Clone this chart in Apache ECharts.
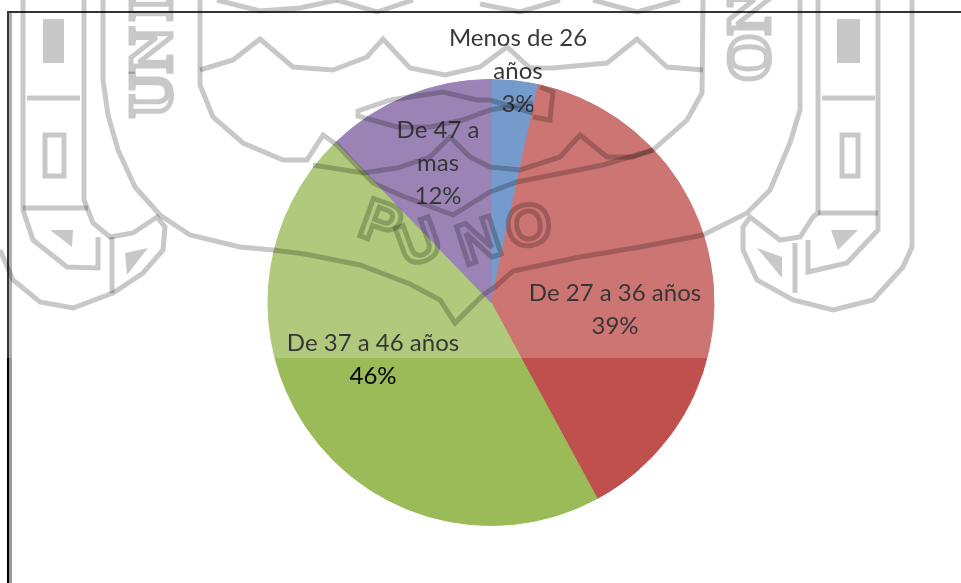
<!DOCTYPE html>
<html>
<head>
<meta charset="utf-8">
<style>
  html, body { margin: 0; padding: 0; background: #fff; }
  #chart { width: 961px; height: 583px; }
</style>
</head>
<body>
<div id="chart"></div>
<script src="https://cdn.jsdelivr.net/npm/echarts@6/dist/echarts.min.js"></script>
<script>
// valores
const categories = ['Menos de 26\naños', 'De 27 a 36 años', 'De 37 a 46 años', 'De 47 a\nmas']
const values = [3.4, 38.7, 45.7, 12.2]
const colors = ['#4f81bd', '#c0504d', '#9bbb59', '#8064a2']

// centro de cada etiqueta
const labelCenters = [[518, 71], [615, 310], [373, 360], [438, 163]]

// marca de agua (escudo) de fondo
const wmLines = [
  // arcos grandes
  [[103, 0], [103, 80], [108, 115], [118, 150], [135, 187], [160, 215], [190, 235], [240, 247], [273, 250], [305, 254], [360, 265], [410, 284], [440, 300], [455, 323], [483, 295]],
  [[483, 295], [495, 287], [513, 271], [580, 257], [640, 247], [703, 235], [747, 213], [770, 190], [790, 143], [800, 110], [800, 0]],
  [[200, 0], [200, 85], [213, 117], [243, 143], [283, 160], [307, 160], [323, 135], [337, 145], [373, 183], [400, 195], [453, 215], [490, 192], [517, 182], [603, 165], [653, 150], [687, 120], [702, 93], [703, 0]],
  // coronas
  [[200, 70], [233, 60], [260, 39], [293, 67], [333, 70], [367, 57], [383, 39], [410, 68], [445, 75], [480, 67], [507, 47], [530, 68], [553, 68], [607, 63], [637, 39], [667, 67], [703, 70]],
  [[313, 165], [363, 173], [397, 168], [430, 157], [450, 137], [470, 157], [490, 167], [520, 170], [560, 157], [580, 135], [607, 157], [633, 157], [653, 150]],
  [[390, 100], [358, 111], [358, 116], [397, 127], [430, 127], [463, 120], [490, 110], [533, 103]],
  [[390, 100], [443, 92], [477, 100], [490, 100], [533, 113]],
  [[533, 117], [550, 120], [553, 92], [540, 87]],
  // arcos superiores
  [[217, 0], [260, 11], [300, 8], [337, 0]],
  [[337, 0], [377, 12], [413, 0]],
  [[480, 4], [520, 12], [560, 0]],
  [[593, 0], [637, 12], [680, 0]],
  // lado izquierdo
  [[23, 0], [23, 210], [33, 240], [67, 267], [98, 268], [98, 237]],
  [[84, 0], [84, 200], [93, 223], [110, 237], [133, 233], [157, 217], [165, 227], [163, 250], [143, 273], [113, 293], [73, 308], [40, 302], [13, 280], [0, 250]],
  [[27, 98], [80, 98]],
  [[23, 208], [88, 208]],
  [[112, 237], [112, 293]],
  // lado derecho
  [[818, 0], [818, 213], [813, 217], [800, 237], [780, 240], [750, 217], [743, 227], [743, 250], [757, 280], [793, 300], [833, 310], [873, 300], [903, 267], [912, 247], [912, 0]],
  [[878, 0], [878, 230], [847, 263], [808, 272], [808, 240]],
  [[822, 98], [875, 98]],
  [[818, 213], [878, 213]],
  [[795, 243], [795, 293]]
]
const wmFills = [
  [[43, 19], [64, 19], [64, 63], [43, 63]],
  [[837, 19], [860, 19], [860, 63], [837, 63]],
  [[50, 230], [73, 230], [72, 247]],
  [[831, 230], [858, 230], [838, 250]],
  [[125, 253], [148, 248], [127, 275]],
  [[757, 248], [782, 257], [782, 278]]
]
const wmBoxes = [[45, 135, 19, 41], [842, 135, 16, 41]]
// letra, x, y, giro en grados (positivo = antihorario), tamano, fuente
const wmLetters = [
  ['P', 380, 226, -20, 58, 'Liberation Sans'], ['U', 420, 245, 20, 58, 'Liberation Sans'],
  ['N', 480, 244, 18, 58, 'Liberation Sans'], ['O', 529, 229, 8, 58, 'Liberation Sans'],
  ['U', 155, 95, 90, 62, 'Liberation Serif'], ['N', 155, 50, 90, 62, 'Liberation Serif'], ['I', 155, 9, 90, 62, 'Liberation Serif'],
  ['O', 753, 58, 90, 62, 'Liberation Serif'], ['N', 753, 12, 90, 62, 'Liberation Serif']
]

const wmStroke = 'rgba(0,0,0,0.215)'

const graphic = []
// marco
graphic.push({ type: 'line', silent: true, z: 1, shape: { x1: 8, y1: 12, x2: 961, y2: 12 }, style: { stroke: '#000', lineWidth: 2 } })
graphic.push({ type: 'line', silent: true, z: 1, shape: { x1: 8, y1: 11, x2: 8, y2: 583 }, style: { stroke: '#000', lineWidth: 2 } })
graphic.push({ type: 'line', silent: true, z: 1, shape: { x1: 10.5, y1: 13, x2: 10.5, y2: 583 }, style: { stroke: '#999', lineWidth: 3 } })
// velo blanco sobre la parte superior
graphic.push({ type: 'rect', silent: true, z: 10, shape: { x: 0, y: 0, width: 961, height: 358 }, style: { fill: 'rgba(255,255,255,0.21)' } })
wmLines.forEach(points => {
  graphic.push({ type: 'polyline', silent: true, z: 11, shape: { points }, style: { stroke: wmStroke, lineWidth: 5, fill: null, lineJoin: 'miter' } })
})
wmFills.forEach(points => {
  graphic.push({ type: 'polygon', silent: true, z: 11, shape: { points }, style: { fill: wmStroke } })
})
wmBoxes.forEach(b => {
  graphic.push({ type: 'rect', silent: true, z: 11, shape: { x: b[0], y: b[1], width: b[2], height: b[3] }, style: { fill: null, stroke: wmStroke, lineWidth: 5 } })
})
wmLetters.forEach(l => {
  graphic.push({
    type: 'text', silent: true, z: 11, x: l[1], y: l[2], rotation: l[3] * Math.PI / 180,
    style: {
      text: l[0], font: 'bold ' + l[4] + 'px "' + l[5] + '"', fill: 'rgba(0,0,0,0)',
      stroke: wmStroke, lineWidth: 5, align: 'center', verticalAlign: 'middle'
    }
  })
})

const chart = echarts.init(document.getElementById('chart'), null, { renderer: 'canvas' })
chart.setOption({
  animation: false,
  backgroundColor: '#fff',
  color: colors,
  graphic,
  series: [
    {
      type: 'pie',
      center: [491, 302.5],
      radius: 223,
      startAngle: 90,
      clockwise: true,
      silent: true,
      percentPrecision: 0,
      labelLine: { show: false },
      label: {
        show: true,
        position: 'inside',
        formatter: '{b}\n{d}%',
        color: '#000',
        fontFamily: 'Lato',
        fontSize: 24,
        lineHeight: 33,
        align: 'center'
      },
      labelLayout: params => ({
        x: labelCenters[params.dataIndex][0],
        y: labelCenters[params.dataIndex][1],
        align: 'center',
        verticalAlign: 'middle'
      }),
      // borde del mismo color para que no quede una raya blanca entre sectores
      data: categories.map((name, i) => ({
        name,
        value: values[i],
        itemStyle: { borderColor: colors[i], borderWidth: 1 }
      }))
    }
  ]
})
</script>
</body>
</html>
